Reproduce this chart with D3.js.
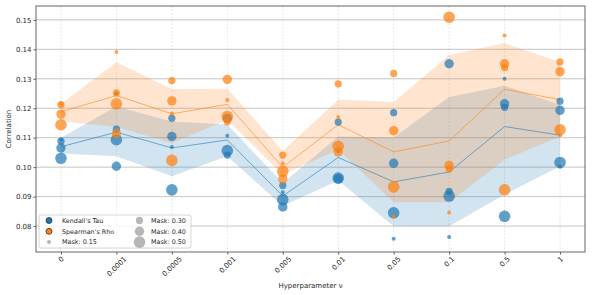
<!DOCTYPE html>
<html>
<head>
<meta charset="utf-8">
<script src="https://cdn.jsdelivr.net/npm/d3@7"></script>
<style>
  body { margin: 0; background: #fff; }
  text { font-family: "DejaVu Sans", sans-serif; fill: #262626; }
</style>
</head>
<body>
<div id="chart"></div>
<script>
// hyperparameter values on the x axis
const categories = ["0", "0.0001", "0.0005", "0.001", "0.005", "0.01", "0.05", "0.1", "0.5", "1"];
const yTicks = [0.08, 0.09, 0.10, 0.11, 0.12, 0.13, 0.14, 0.15];
const masks = [0.15, 0.30, 0.40, 0.50];

// Kendall's Tau, one array per mask ratio
const kendall015 = [0.1094, 0.1250, 0.1068, 0.1107, 0.0915, 0.1055, 0.0757, 0.0763, 0.1300, 0.1001];
const kendall030 = [0.1088, 0.1129, 0.1166, 0.1041, 0.0938, 0.1153, 0.1185, 0.0918, 0.1203, 0.1224];
const kendall040 = [0.1065, 0.1003, 0.1104, 0.1165, 0.0865, 0.0960, 0.1013, 0.1351, 0.1215, 0.1193];
const kendall050 = [0.1030, 0.1093, 0.0923, 0.1056, 0.0890, 0.0963, 0.0845, 0.0902, 0.0833, 0.1016];

// Spearman's Rho, one array per mask ratio
const spearman015 = [0.1215, 0.1391, 0.1182, 0.1228, 0.1012, 0.1170, 0.0832, 0.0846, 0.1447, 0.1108];
const spearman030 = [0.1212, 0.1252, 0.1294, 0.1154, 0.1041, 0.1283, 0.1318, 0.0994, 0.1338, 0.1357];
const spearman040 = [0.1180, 0.1114, 0.1225, 0.1298, 0.0960, 0.1052, 0.1124, 0.1006, 0.1351, 0.1324];
const spearman050 = [0.1144, 0.1215, 0.1023, 0.1172, 0.0986, 0.1071, 0.0933, 0.1509, 0.0923, 0.1127];

// shaded interval round the mean line
const kendallLow = [0.1046, 0.1037, 0.0969, 0.1037, 0.0868, 0.0955, 0.0799, 0.0799, 0.0907, 0.1003];
const kendallHigh = [0.1100, 0.1206, 0.1155, 0.1145, 0.0945, 0.1104, 0.1101, 0.1238, 0.1276, 0.1212];
const spearmanLow = [0.1156, 0.1136, 0.1082, 0.1160, 0.0975, 0.1059, 0.0881, 0.0881, 0.1025, 0.1104];
const spearmanHigh = [0.1215, 0.1356, 0.1265, 0.1266, 0.1055, 0.1229, 0.1221, 0.1381, 0.1421, 0.1357];

const blue = "#1f77b4", orange = "#ff7f0e";

const series = [
  { name: "Kendall's Tau", color: blue, values: [kendall015, kendall030, kendall040, kendall050], low: kendallLow, high: kendallHigh },
  { name: "Spearman's Rho", color: orange, values: [spearman015, spearman030, spearman040, spearman050], low: spearmanLow, high: spearmanHigh }
];

// svg size and plot area
const canvWidth = 593, canvHeight = 295;
const margin = { top: 6, right: 8, bottom: 43, left: 36 };
const width = canvWidth - margin.left - margin.right;
const height = canvHeight - margin.top - margin.bottom;

const svg = d3.select("#chart").append("svg")
  .attr("width", canvWidth)
  .attr("height", canvHeight);

const g = svg.append("g")
  .attr("transform", `translate(${margin.left},${margin.top})`);

const xScale = d3.scalePoint().domain(categories).range([0, width]).padding(0.45);
const yScale = d3.scaleLinear().domain([0.0712, 0.1547]).range([height, 0]);
const rScale = d3.scaleLinear().domain([0.15, 0.5]).range([2, 5.8]);

// grid
g.append("g")
  .selectAll("line")
  .data(categories)
  .enter()
  .append("line")
  .attr("x1", d => xScale(d))
  .attr("x2", d => xScale(d))
  .attr("y1", 0)
  .attr("y2", height)
  .style("stroke", "#b0b0b0")
  .style("stroke-width", 0.6)
  .style("stroke-dasharray", "2,1.5")
  .style("opacity", 0.5);

g.append("g")
  .selectAll("line")
  .data(yTicks)
  .enter()
  .append("line")
  .attr("x1", 0)
  .attr("x2", width)
  .attr("y1", d => yScale(d))
  .attr("y2", d => yScale(d))
  .style("stroke", "#b0b0b0")
  .style("stroke-width", 0.9)
  .style("opacity", 0.8);

// bands and mean lines
const area = d3.area()
  .x((d, i) => xScale(categories[i]))
  .y0(d => yScale(d[0]))
  .y1(d => yScale(d[1]));

const line = d3.line()
  .x((d, i) => xScale(categories[i]))
  .y(d => yScale(d));

series.forEach(s => {
  g.append("path")
    .attr("d", area(d3.zip(s.low, s.high)))
    .style("fill", s.color)
    .style("fill-opacity", 0.2)
    .style("stroke", "none");
});

series.forEach(s => {
  const means = categories.map((c, i) => d3.mean(s.values, arr => arr[i]));
  g.append("path")
    .attr("d", line(means))
    .style("fill", "none")
    .style("stroke", s.color)
    .style("stroke-opacity", 0.65)
    .style("stroke-width", 0.9);
});

// points
series.forEach(s => {
  s.values.forEach((arr, m) => {
    g.append("g")
      .selectAll("circle")
      .data(arr)
      .enter()
      .append("circle")
      .attr("cx", (d, i) => xScale(categories[i]))
      .attr("cy", d => yScale(d))
      .attr("r", rScale(masks[m]))
      .style("fill", s.color)
      .style("fill-opacity", 0.7);
  });
});

// axes
const xAxis = d3.axisBottom(xScale).tickSize(2.5).tickPadding(2);
const xAxisG = g.append("g")
  .attr("transform", `translate(0,${height})`)
  .call(xAxis);
xAxisG.select(".domain").remove();
xAxisG.selectAll(".tick line").style("stroke", "#333").style("stroke-width", 0.8);
xAxisG.selectAll(".tick text")
  .attr("font-size", "7px")
  .attr("text-anchor", "middle")
  .attr("dominant-baseline", "central")
  .attr("y", 0)
  .attr("dy", 0)
  .attr("transform", function () {
    const w = this.getComputedTextLength();
    const off = 3.5 + (w + 7) * 0.7071 / 2;
    return `translate(0,${off}) rotate(-45)`;
  });

const yAxis = d3.axisLeft(yScale).tickValues(yTicks).tickFormat(d3.format(".2f")).tickSize(2.5).tickPadding(2);
const yAxisG = g.append("g").call(yAxis);
yAxisG.select(".domain").remove();
yAxisG.selectAll(".tick line").style("stroke", "#333").style("stroke-width", 0.8);
yAxisG.selectAll(".tick text").attr("font-size", "7px");

// frame
g.append("rect")
  .attr("width", width)
  .attr("height", height)
  .style("fill", "none")
  .style("stroke", "#555")
  .style("stroke-width", 0.9);

svg.append("text")
  .attr("x", margin.left + width / 2)
  .attr("y", 288)
  .attr("font-size", "7px")
  .style("text-anchor", "middle")
  .text("Hyperparameter ν");

svg.append("text")
  .attr("transform", "rotate(-90)")
  .attr("x", -(margin.top + height / 2))
  .attr("y", 11)
  .attr("font-size", "7px")
  .style("text-anchor", "middle")
  .text("Correlation");

// legend
const legend = svg.append("g").attr("transform", "translate(39,215)");

legend.append("rect")
  .attr("width", 152)
  .attr("height", 33)
  .attr("rx", 2)
  .style("fill", "white")
  .style("fill-opacity", 0.8)
  .style("stroke", "#cccccc")
  .style("stroke-width", 0.8);

const leftItems = [
  { label: "Kendall's Tau", fill: blue, r: 3, edge: true },
  { label: "Spearman's Rho", fill: orange, r: 3, edge: true },
  { label: "Mask: " + masks[0].toFixed(2), fill: "#999", r: rScale(masks[0]), edge: false }
];
const rightItems = masks.slice(1).map(m => ({ label: "Mask: " + m.toFixed(2), fill: "#999", r: rScale(m), edge: false }));

function drawItems(items, xMarker, xText) {
  items.forEach((d, i) => {
    const yy = 5.5 + i * 10.8;
    legend.append("circle")
      .attr("cx", xMarker)
      .attr("cy", yy)
      .attr("r", d.r)
      .style("fill", d.fill)
      .style("fill-opacity", d.edge ? 1 : 0.7)
      .style("stroke", d.edge ? "#222" : "none")
      .style("stroke-width", 0.7);
    legend.append("text")
      .attr("x", xText)
      .attr("y", yy)
      .attr("dy", "0.35em")
      .attr("font-size", "6.4px")
      .text(d.label);
  });
}
drawItems(leftItems, 10, 23);
drawItems(rightItems, 100.5, 112);
</script>
</body>
</html>
